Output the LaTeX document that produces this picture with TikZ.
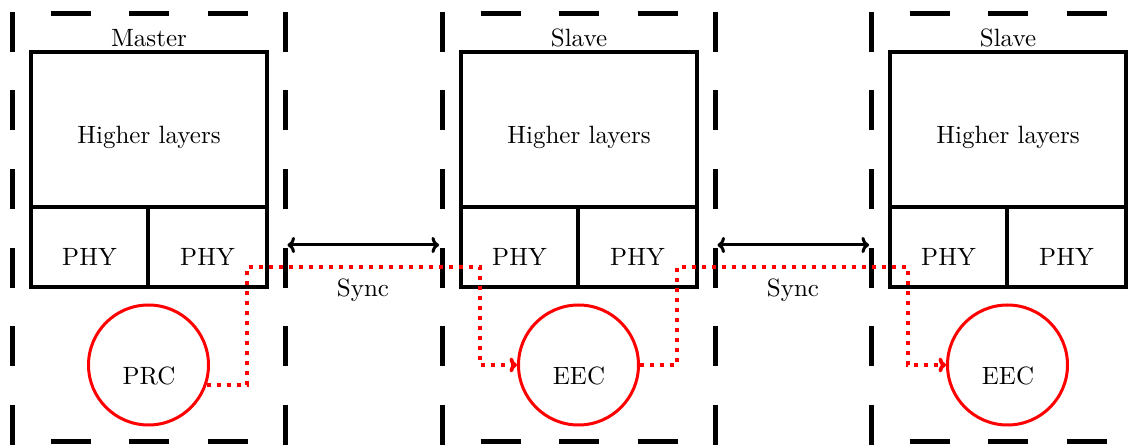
\documentclass[tikz,border=0pt]{standalone}
\usetikzlibrary{arrows.meta}
\begin{document}
\begin{tikzpicture}[x=0.4pt,y=-0.4pt,
  vframe/.style={line width=2pt, dash pattern=on 16pt off 15.4pt},
  hframe/.style={line width=2pt, dash pattern=on 16pt off 15.4pt, dash phase=16pt},
  layer/.style={draw, line width=1.6pt, inner sep=0pt},
  clock/.style={circle, draw=red, line width=1.2pt, minimum size=48pt, inner sep=0pt},
  lbl/.style={anchor=base, inner sep=0pt},
  syncarrow/.style={line width=1.2pt, {To[length=3pt,width=6.5pt]}-{To[length=3pt,width=6.5pt]}, shorten <=1pt, shorten >=1pt},
  timing/.style={red, line width=1.5pt, dash pattern=on 1.6pt off 2.4pt, -{To[length=3pt,width=6pt]}}]
\useasboundingbox (0,0) rectangle (1141,445);
\foreach \i/\dx/\title/\clk in {0/0/Master/PRC, 1/430/Slave/EEC, 2/859/Slave/EEC} {
  % dashed frame of the device
  \draw[vframe] ({12+\dx},12) -- ({12+\dx},445);
  \draw[vframe] ({285+\dx},12) -- ({285+\dx},445);
  \draw[hframe] ({12+\dx},14) -- ({285+\dx},14);
  \draw[hframe] ({12+\dx},442) -- ({285+\dx},442);
  % layer stack
  \node[layer, minimum width=94.4pt, minimum height=62pt] (hl\i) at ({149+\dx},129.5) {};
  \node[layer, minimum width=46.8pt, minimum height=32pt] (pa\i) at ({89.5+\dx},247) {};
  \node[layer, minimum width=47.6pt, minimum height=32pt] (pb\i) at ({207.5+\dx},247) {};
  \node[lbl] (title\i) at ({149+\dx},47) {\title};
  \node[lbl] (hlt\i) at ({149+\dx},144) {Higher layers};
  \node[lbl] (pat\i) at ({89.5+\dx},265.5) {PHY};
  \node[lbl] (pbt\i) at ({207.5+\dx},265.5) {PHY};
  % clock
  \node[clock] (clk\i) at ({148.5+\dx},365) {};
  \node[lbl] (clkt\i) at ({149+\dx},385) {\clk};
}
% sync arrows
\foreach \i/\dx in {0/0, 1/430} {
  \coordinate (sa\i) at ({285+\dx},245);
  \coordinate (sb\i) at ({441.5+\dx},245);
  \draw[syncarrow] (sa\i) -- (sb\i);
  \node[lbl] (sync\i) at ({363+\dx},297) {Sync};
}
% timing paths
\coordinate (k1) at (247,267);
\coordinate (k2) at (480,267);
\coordinate (k3) at (677,267);
\coordinate (k4) at (908,267);
\draw[timing] (clk0.-19) -| (k1) -- (k2) |- (clk1.west);
\draw[timing] (clk1.east) -| (k3) -- (k4) |- (clk2.west);
\end{tikzpicture}
\end{document}
